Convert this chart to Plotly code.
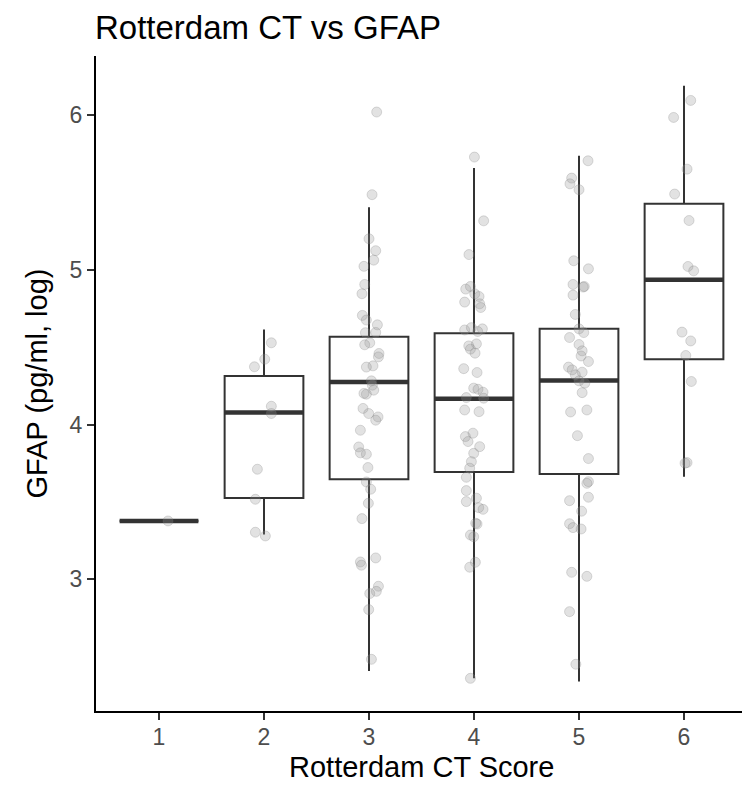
import plotly.graph_objects as go

# ---- data ----
categories = [1, 2, 3, 4, 5, 6]
tick_labels = ["1", "2", "3", "4", "5", "6"]

# box statistics per Rotterdam CT score
q1_vals = [3.377, 3.526, 3.647, 3.694, 3.681, 4.422]
median_vals = [3.377, 4.078, 4.274, 4.166, 4.284, 4.935]
q3_vals = [3.377, 4.314, 4.567, 4.590, 4.618, 5.426]
lower_vals = [3.377, 3.289, 2.407, 2.360, 2.340, 3.663]
upper_vals = [3.377, 4.614, 5.403, 5.657, 5.736, 6.189]

# jittered observations: GFAP values and horizontal jitter (category units)
g1_y = [3.377]
g1_dx = [0.086]

g2_y = [4.528, 4.422, 4.373, 4.118, 4.071, 3.711, 3.517, 3.304, 3.280]
g2_dx = [0.070, 0.007, -0.091, 0.070, 0.070, -0.063, -0.082, -0.082, 0.013]

g3_y = [6.019, 5.485, 5.200, 5.123, 5.062, 5.022, 4.905, 4.845, 4.705, 4.675,
        4.644, 4.595, 4.593, 4.528, 4.515, 4.459, 4.437, 4.379, 4.371, 4.282,
        4.254, 4.222, 4.196, 4.201, 4.104, 4.071, 4.049, 4.028, 3.963, 3.855,
        3.817, 3.808, 3.722, 3.629, 3.582, 3.491, 3.392, 3.138, 3.112, 3.091,
        2.955, 2.922, 2.908, 2.804, 2.483]
g3_dx = [0.073, 0.029, 0.000, 0.064, 0.045, -0.048, -0.041, -0.067, -0.063, -0.025,
         0.080, 0.064, -0.034, 0.007, -0.041, 0.095, 0.090, 0.038, -0.025, 0.023,
         0.032, 0.045, -0.025, -0.048, -0.057, -0.003, 0.086, 0.064, -0.082, -0.098,
         -0.082, -0.025, -0.010, -0.025, 0.016, -0.006, -0.067, 0.064, -0.082, -0.072,
         0.090, 0.070, 0.007, -0.003, 0.023]

g4_y = [5.728, 5.316, 5.098, 4.875, 4.892, 4.844, 4.827, 4.791, 4.780, 4.756,
        4.611, 4.626, 4.618, 4.601, 4.521, 4.508, 4.487, 4.461, 4.361, 4.336,
        4.235, 4.228, 4.209, 4.174, 4.170, 4.094, 4.083, 3.944, 3.922, 3.890,
        3.857, 3.814, 3.760, 3.718, 3.659, 3.573, 3.524, 3.502, 3.463, 3.452,
        3.362, 3.357, 3.286, 3.275, 3.110, 3.078, 2.360]
g4_dx = [0.004, 0.092, -0.048, -0.079, -0.034, 0.007, 0.048, -0.089, 0.054, 0.064,
         -0.089, -0.025, 0.080, 0.035, 0.023, -0.050, -0.034, 0.010, -0.098, 0.029,
         -0.003, 0.038, 0.086, -0.073, 0.092, -0.089, 0.048, -0.010, -0.082, -0.057,
         0.054, -0.003, -0.025, -0.041, -0.073, -0.073, 0.023, -0.073, 0.045, 0.086,
         0.016, 0.029, -0.034, -0.003, 0.013, -0.041, -0.034]

g5_y = [5.704, 5.592, 5.555, 5.517, 5.058, 5.006, 4.905, 4.892, 4.888, 4.836,
        4.711, 4.618, 4.594, 4.562, 4.517, 4.476, 4.443, 4.407, 4.371, 4.353,
        4.338, 4.321, 4.282, 4.267, 4.206, 4.081, 4.094, 3.928, 3.780, 3.631,
        3.620, 3.508, 3.530, 3.440, 3.359, 3.334, 3.325, 3.045, 3.019, 2.791,
        2.451]
g5_dx = [0.086, -0.070, -0.086, 0.000, -0.050, 0.090, -0.057, 0.050, 0.040, -0.057,
         -0.035, 0.000, 0.045, -0.090, 0.000, 0.030, 0.020, 0.090, -0.100, -0.065,
         0.030, -0.035, 0.000, 0.055, 0.030, -0.080, 0.075, -0.015, 0.090, 0.090,
         0.075, -0.090, 0.090, 0.025, -0.090, -0.057, 0.020, -0.070, 0.075, -0.090,
         -0.030]

g6_y = [6.094, 5.984, 5.650, 5.489, 5.318, 5.021, 4.993, 4.597, 4.540, 4.446,
        4.278, 3.754, 3.750]
g6_dx = [0.064, -0.099, 0.029, -0.089, 0.048, 0.038, 0.092, -0.019, 0.064, 0.017,
         0.070, 0.029, 0.010]

group_y = [g1_y, g2_y, g3_y, g4_y, g5_y, g6_y]
group_dx = [g1_dx, g2_dx, g3_dx, g4_dx, g5_dx, g6_dx]

# ---- styling ----
BOX_W = 0.75
DARK = "#333333"
FONT = "Liberation Sans, Arial, sans-serif"

fig = go.Figure()

fig.add_trace(go.Box(
    x=categories, q1=q1_vals, median=median_vals, q3=q3_vals,
    lowerfence=lower_vals, upperfence=upper_vals,
    width=BOX_W, whiskerwidth=0, fillcolor="white",
    line=dict(color=DARK, width=2),
    boxpoints=False, hoverinfo="skip", showlegend=False,
))

# thick median bars (ggplot style)
for c, m in zip(categories, median_vals):
    fig.add_trace(go.Scatter(
        x=[c - BOX_W / 2, c + BOX_W / 2], y=[m, m], mode="lines",
        line=dict(color=DARK, width=4.5), hoverinfo="skip", showlegend=False,
    ))

# jittered points
for c, ys, dxs in zip(categories, group_y, group_dx):
    fig.add_trace(go.Scatter(
        x=[c + d for d in dxs], y=ys, mode="markers",
        marker=dict(size=10, color="rgba(150,150,150,0.28)",
                    line=dict(color="rgba(120,120,120,0.25)", width=1)),
        hoverinfo="skip", showlegend=False,
    ))

fig.update_layout(
    width=742, height=786,
    paper_bgcolor="white", plot_bgcolor="white",
    margin=dict(l=96, r=0, t=56, b=75),
    font=dict(family=FONT, color="black"),
    title=dict(text="Rotterdam CT vs GFAP", font=dict(size=33, color="black", family=FONT),
               x=95 / 742, xanchor="left", xref="container",
               y=1 - 27 / 786, yanchor="middle", yref="container"),
    xaxis=dict(
        range=[0.4, 0.4 + 646 / 105],
        tickvals=categories, ticktext=tick_labels,
        showgrid=False, zeroline=False,
        showline=True, linecolor="black", linewidth=2,
        ticks="outside", ticklen=7, tickwidth=2, tickcolor=DARK,
        ticklabelstandoff=-3,
        tickfont=dict(size=23, color="#4D4D4D", family=FONT),
    ),
    yaxis=dict(
        range=[2.149, 6.381],
        tickvals=[3, 4, 5, 6], ticktext=["3", "4", "5", "6"],
        showgrid=False, zeroline=False,
        showline=True, linecolor="black", linewidth=2,
        ticks="outside", ticklen=7, tickwidth=2, tickcolor=DARK,
        tickfont=dict(size=23, color="#4D4D4D", family=FONT),
        title=dict(text="GFAP (pg/ml, log)", font=dict(size=29, color="black", family=FONT),
                   standoff=13),
    ),
    annotations=[dict(
        text="Rotterdam CT Score", xref="paper", yref="paper",
        x=(421.5 - 96) / 646, y=0, xanchor="center", yanchor="middle",
        yshift=-56, showarrow=False,
        font=dict(size=29, color="black", family=FONT),
    )],
)

fig.write_html(
    "out.html",
    config={"displayModeBar": False},
    post_script="document.body.style.margin='0';document.body.style.overflow='hidden';",
)
